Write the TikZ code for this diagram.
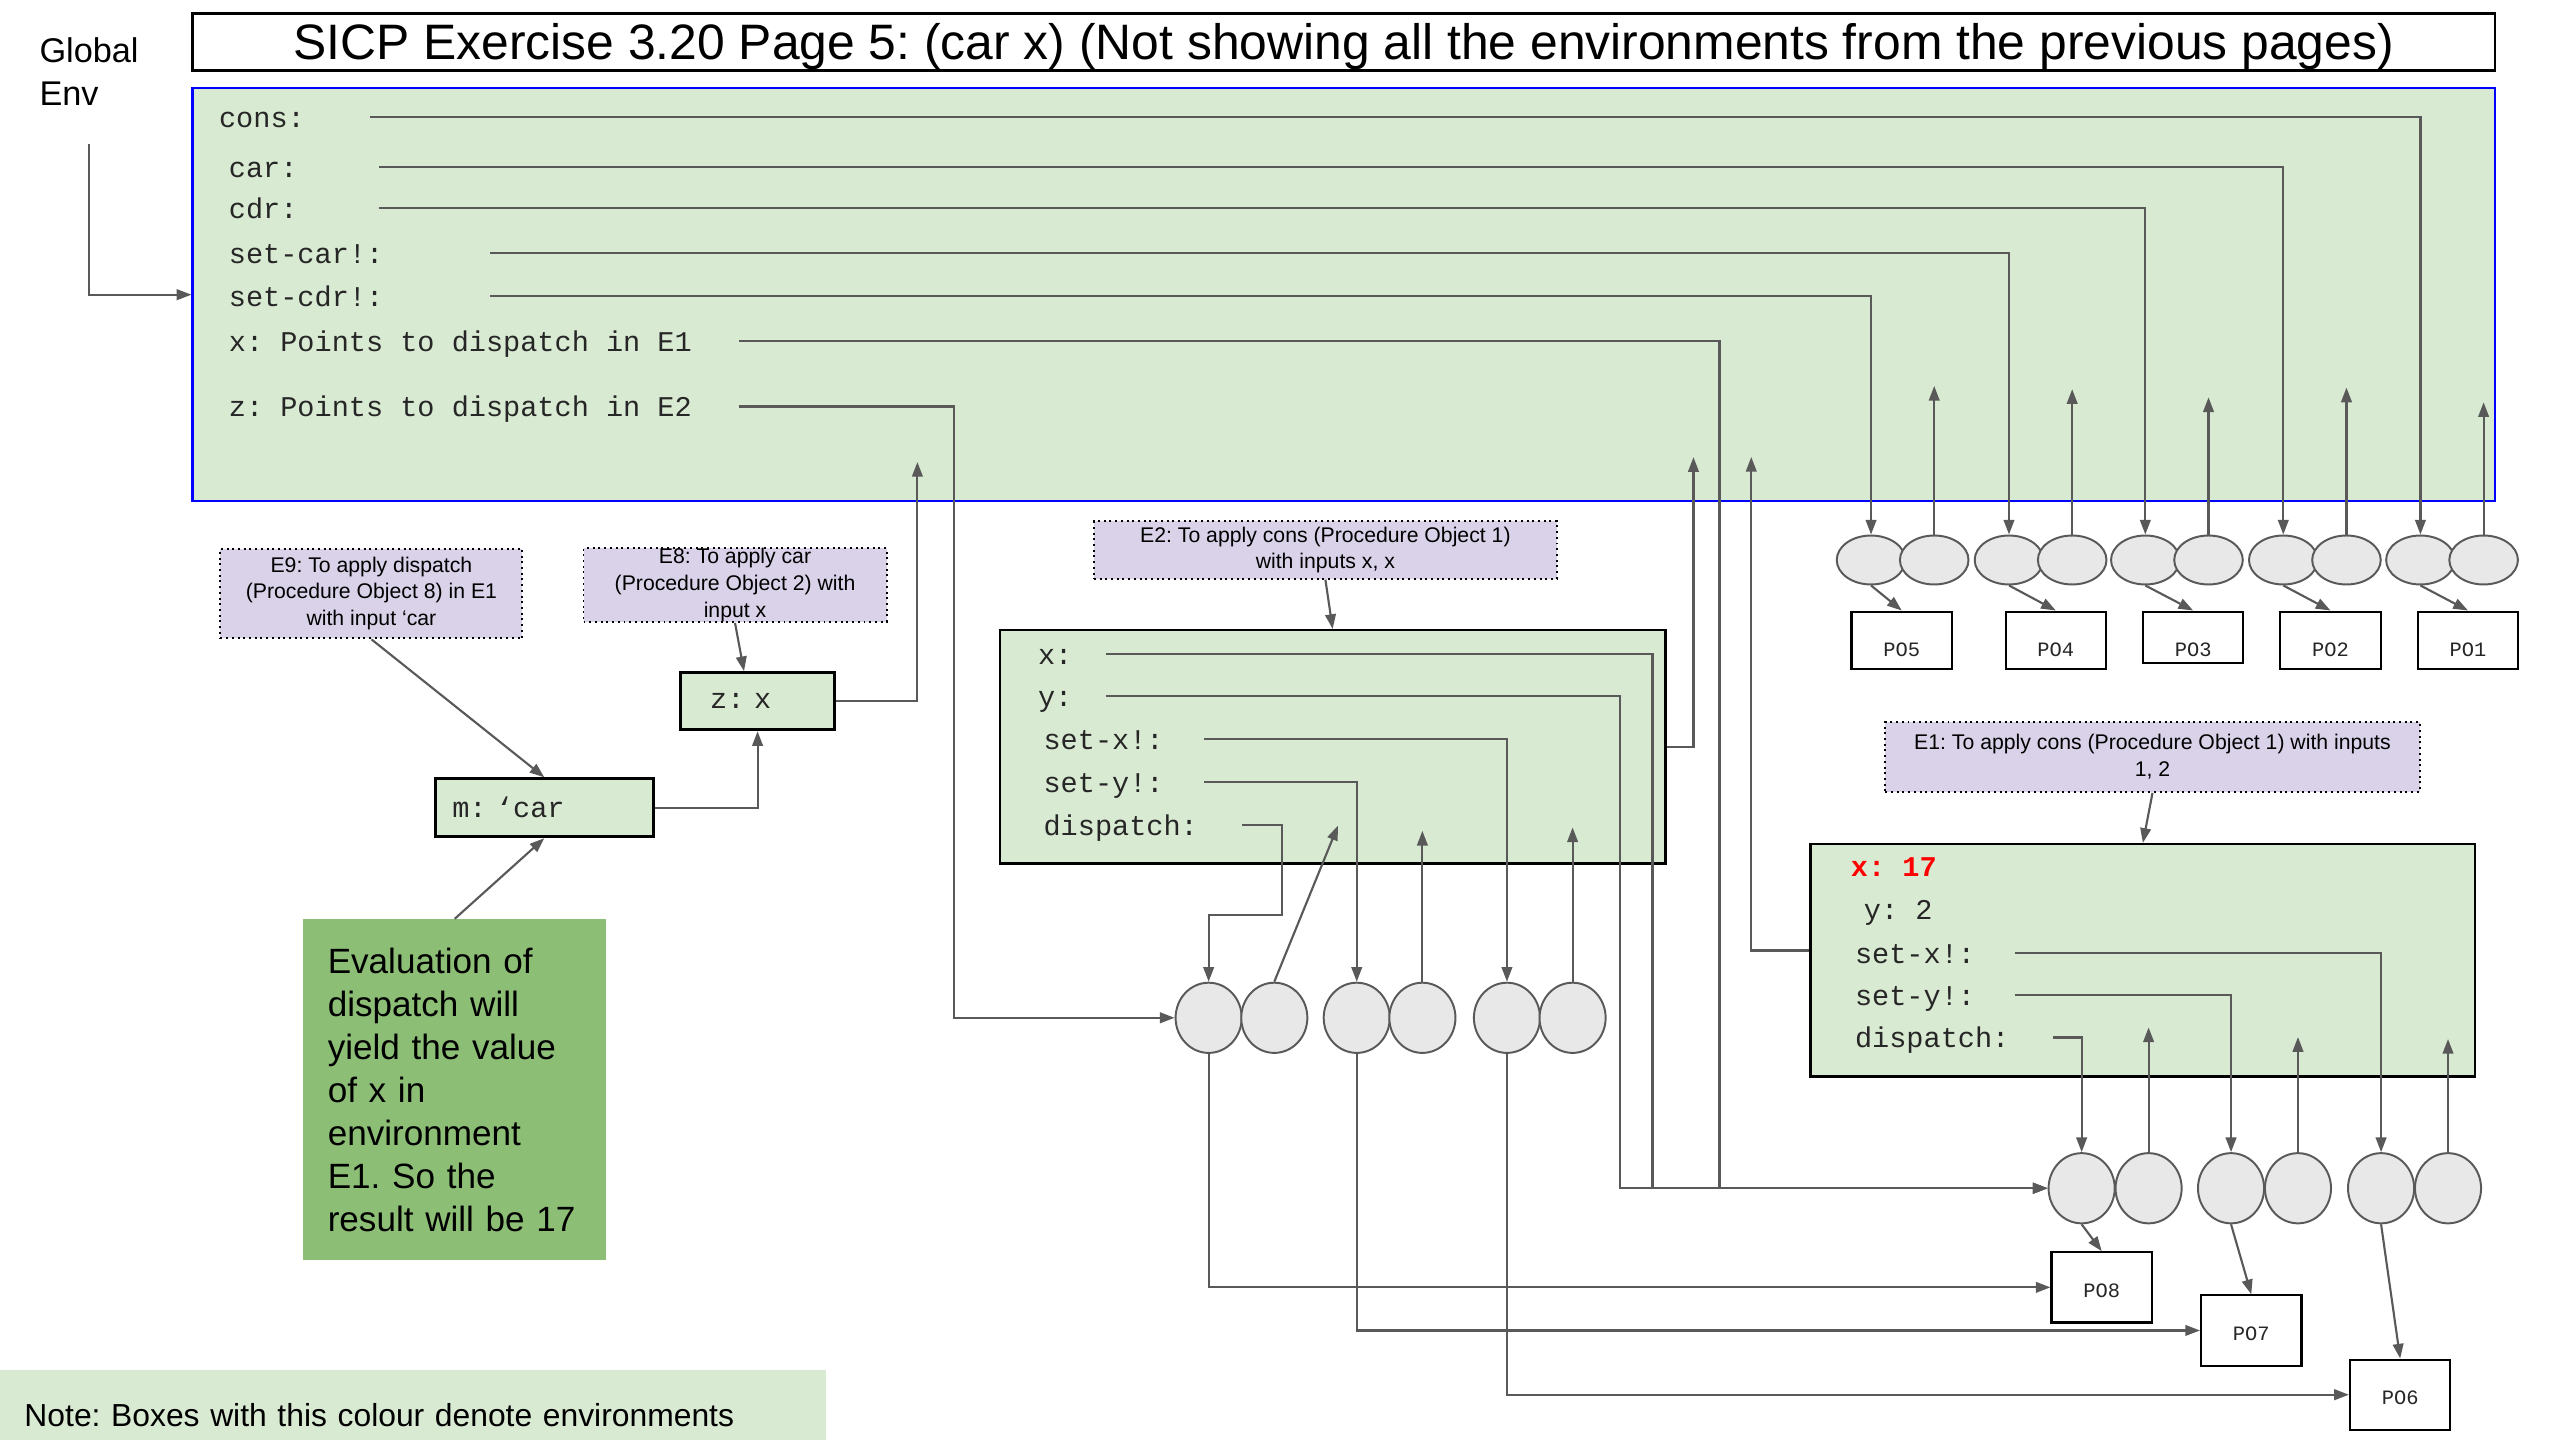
\documentclass[tikz,border=0pt]{standalone}
\usepackage{fontspec}
\setmainfont{Liberation Sans}
\setmonofont{Liberation Mono}
\usetikzlibrary{arrows.meta, shapes.geometric, positioning, calc}
\definecolor{envgreen}{HTML}{D9EAD3}
\definecolor{notegreen}{HTML}{8DBE76}
\definecolor{lavender}{HTML}{D9D2E9}
\definecolor{cellgray}{HTML}{E8E8E8}
\definecolor{linegray}{HTML}{595959}
\definecolor{codegray}{HTML}{262626}
\frenchspacing

\begin{document}
\begin{tikzpicture}[
    x=1pt, y=-1pt,
    envbox/.style={rectangle, draw=black, line width=1.5pt, fill=envgreen},
    smallenv/.style={envbox, line width=1.8pt, align=left, text=codegray, font=\ttfamily\fontsize{17.5pt}{20pt}\selectfont},
    lavbox/.style={rectangle, draw=black, line width=1.2pt, dash pattern=on 1.2pt off 2.3pt, fill=lavender, inner sep=0pt, align=center, font=\fontsize{13pt}{16.5pt}\selectfont},
    binding/.style={anchor=west, inner sep=0pt, text height=12.6pt, text depth=0pt, text=codegray, font=\ttfamily\fontsize{17.5pt}{20pt}\selectfont},
    topcell/.style={ellipse, draw=linegray, line width=1.2pt, fill=cellgray, inner sep=0pt, minimum width=42pt, minimum height=30pt},
    cell/.style={topcell, minimum width=40.5pt, minimum height=43pt},
    pobox/.style={rectangle, draw=black, line width=1.3pt, fill=white, minimum width=61.5pt, minimum height=35.2pt, text height=20pt, text depth=0pt, text=codegray, font=\ttfamily\fontsize{12.5pt}{14pt}\selectfont},
    lowpo/.style={pobox, minimum height=43pt, text height=12.2pt},
    arrow/.style={-{Triangle[length=9pt, width=6.5pt]}, line width=1.3pt, draw=linegray}
]
\useasboundingbox (0,0) rectangle (1568,882);

\node[draw=black, line width=1.5pt, minimum width=1410pt, minimum height=35pt, inner sep=0pt, text height=22pt, text depth=0pt, font=\fontsize{30.5pt}{36pt}\selectfont] (title) at (823,25.75) {SICP Exercise 3.20 Page 5: (car x) (Not showing all the environments from the previous pages)};
\node[anchor=north west, inner sep=0pt, align=left, font=\fontsize{21pt}{26.5pt}\selectfont] (genv) at (24,22.8) {Global\\Env};

\node[draw=blue, line width=1.5pt, fill=envgreen, minimum width=1410pt, minimum height=253pt] (global) at (823,180.5) {};
\node[binding] (gcons) at (134,71.5) {cons:};
\node[binding] (gcar) at (140,102.5) {car:};
\node[binding] (gcdr) at (140,127.4) {cdr:};
\node[binding] (gsetcar) at (140,154.8) {set-car!:};
\node[binding] (gsetcdr) at (140,181.3) {set-cdr!:};
\node[binding] (gx) at (140,209) {x: Points to dispatch in E1};
\node[binding] (gz) at (140,249) {z: Points to dispatch in E2};

\node[topcell] (pr5l) at (1146,343) {};
\node[topcell, right=-4.5pt of pr5l] (pr5r) {};
\node[topcell] (pr4l) at (1230.5,343) {};
\node[topcell, right=-4.5pt of pr4l] (pr4r) {};
\node[topcell] (pr3l) at (1314,343) {};
\node[topcell, right=-4.5pt of pr3l] (pr3r) {};
\node[topcell] (pr2l) at (1398.5,343) {};
\node[topcell, right=-4.5pt of pr2l] (pr2r) {};
\node[topcell] (pr1l) at (1482.5,343) {};
\node[topcell, right=-4.5pt of pr1l] (pr1r) {};

\node[pobox] (po5) at (1164.8,392.2) {PO5};
\node[pobox] (po4) at (1259.2,392.2) {PO4};
\node[pobox, minimum height=31.4pt, text height=23.8pt] (po3) at (1343.3,390.3) {PO3};
\node[pobox] (po2) at (1427.4,392.2) {PO2};
\node[pobox] (po1) at (1511.6,392.2) {PO1};

\node[lavbox, minimum width=185pt, minimum height=55pt] (e9) at (227.5,363.5) {E9: To apply dispatch\\(Procedure Object 8) in E1\\with input ‘car};
\node[lavbox, minimum width=185.6pt, minimum height=44.7pt] (e8) at (450.2,358.4) {E8: To apply car\\(Procedure Object 2) with\\input x};
\node[smallenv, text width=58pt, inner xsep=18pt, minimum height=35pt] (zx) at (464,429.5) {z: x};
\node[smallenv, text width=112.8pt, inner xsep=10.2pt, minimum height=35.5pt] (mcar) at (333.4,494.75) {m: ‘car};
\node[fill=notegreen, minimum width=185.5pt, minimum height=209pt, text width=155.5pt, inner xsep=15pt, align=left, font=\fontsize{21.5pt}{26.3pt}\selectfont] (note) at (278.5,667.5) {Evaluation of\\dispatch will\\yield the value\\of x in\\environment\\E1. So the\\result will be 17};
\node[fill=envgreen, minimum width=506pt, minimum height=43pt, text width=476pt, inner xsep=15pt, align=left, text height=26pt, text depth=0pt, font=\fontsize{19.5pt}{23pt}\selectfont] (notebar) at (253,860.5) {Note: Boxes with this colour denote environments};

\node[lavbox, minimum width=283.6pt, minimum height=35pt] (e2lab) at (811.8,336.9) {E2: To apply cons (Procedure Object 1)\\with inputs x, x};
\node[envbox, minimum width=407.5pt, minimum height=143pt] (e2box) at (816.25,457.5) {};
\node[binding] (ex2) at (635.6,400.6) {x:};
\node[binding] (ey2) at (635.6,426.5) {y:};
\node[binding] (esx2) at (639,452.8) {set-x!:};
\node[binding] (esy2) at (639,479) {set-y!:};
\node[binding] (ed2) at (639,505.3) {dispatch:};

\node[cell] (dsp2l) at (740.3,623.4) {};
\node[cell, right=-1.5pt of dsp2l] (dsp2r) {};
\node[cell] (sety2l) at (831,623.4) {};
\node[cell, right=-1.5pt of sety2l] (sety2r) {};
\node[cell] (setx2l) at (923,623.4) {};
\node[cell, right=-1.5pt of setx2l] (setx2r) {};

\node[lavbox, minimum width=327.3pt, minimum height=42.7pt] (e1lab) at (1318.4,463.7) {E1: To apply cons (Procedure Object 1) with inputs\\1, 2};
\node[envbox, minimum width=407pt, minimum height=142.4pt] (e1box) at (1312.5,588.2) {};
\node[binding, text=red, font=\ttfamily\bfseries\fontsize{17.5pt}{20pt}\selectfont] (ex1) at (1133.5,530.8) {x: 17};
\node[binding] (ey1) at (1141.4,557.1) {y: 2};
\node[binding] (esx1) at (1136,583.6) {set-x!:};
\node[binding] (esy1) at (1136,609.7) {set-y!:};
\node[binding] (ed1) at (1136,635.5) {dispatch:};

\node[cell] (dsp1l) at (1275,727.8) {};
\node[cell, right=-0.7pt of dsp1l] (dsp1r) {};
\node[cell] (sety1l) at (1366.5,727.8) {};
\node[cell, right=-0.7pt of sety1l] (sety1r) {};
\node[cell] (setx1l) at (1458.4,727.8) {};
\node[cell, right=-0.7pt of setx1l] (setx1r) {};

\node[lowpo] (po8) at (1287.3,788.5) {PO8};
\node[lowpo] (po7) at (1378.9,814.9) {PO7};
\node[lowpo] (po6) at (1470.1,854.25) {PO6};

\draw[arrow] ([yshift=-23pt]genv.south) |- (global.west);
\draw[arrow] ([xshift=39.5pt]gcons.east) -| (pr1l.north);
\draw[arrow] ([xshift=50pt]gcar.east) -| (pr2l.north);
\draw[arrow] ([xshift=50pt]gcdr.east) -| (pr3l.north);
\draw[arrow] ([xshift=65.5pt]gsetcar.east) -| (pr4l.north);
\draw[arrow] ([xshift=65.5pt]gsetcdr.east) -| (pr5l.north);
\draw[arrow] ([xshift=28.5pt]gx.east) -| ($(dsp1l.west)+(-201,0)$) -- (dsp1l.west);
\draw[arrow] ([xshift=28.5pt]gz.east) -| ($(dsp2l.west)+(-135,0)$) -- (dsp2l.west);
\draw[arrow] (pr5r.north) -- ++(0,-91);
\draw[arrow] (pr4r.north) -- ++(0,-89);
\draw[arrow] (pr3r.north) -- ++(0,-84);
\draw[arrow] (pr2r.north) -- ++(0,-90);
\draw[arrow] (pr1r.north) -- ++(0,-81);
\draw[arrow] (pr5l.south) -- (po5.north);
\draw[arrow] (pr4l.south) -- (po4.north);
\draw[arrow] (pr3l.south) -- (po3.north);
\draw[arrow] (pr2l.south) -- (po2.north);
\draw[arrow] (pr1l.south) -- (po1.north);

\draw[arrow] (e9.south) -- (mcar.north);
\draw[arrow] (note.north) -- (mcar.south);
\draw[arrow] (e8.south) -- ([xshift=-8.3pt]zx.north);
\draw[arrow] (mcar.east) -| (zx.south);
\draw[arrow] (zx.east) -| ++(50,-146.5);

\draw[arrow] (e2lab.south) -- (e2box.north);
\draw[arrow] (e2box.east) -| ++(16.5,-177.5);
\draw[arrow] ([xshift=20.4pt]ex2.east) -| ($(dsp1l.west)+(-242,0)$) -- (dsp1l.west);
\draw[arrow] ([xshift=20.4pt]ey2.east) -| ($(dsp1l.west)+(-262,0)$) -- (dsp1l.west);
\draw[arrow] ([xshift=24.5pt]esx2.east) -| (setx2l.north);
\draw[arrow] ([xshift=24.5pt]esy2.east) -| (sety2l.north);
\draw[arrow] ([xshift=27pt]ed2.east) -| ++(24.4,55.4) -| (dsp2l.north);
\draw[arrow] (dsp2r.north) -- ++(39,-95.6);
\draw[arrow] (sety2r.north) -- ++(0,-92.4);
\draw[arrow] (setx2r.north) -- ++(0,-94.5);
\draw[arrow] (dsp2l.south) |- (po8.west);
\draw[arrow] (sety2l.south) |- (po7.west);
\draw[arrow] (setx2l.south) |- (po6.west);

\draw[arrow] (e1lab.south) -- (e1box.north);
\draw[arrow] ([yshift=6pt]e1box.west) -| ++(-35.6,-302.3);
\draw[arrow] ([xshift=24pt]esx1.east) -| (setx1l.north);
\draw[arrow] ([xshift=24pt]esy1.east) -| (sety1l.north);
\draw[arrow] ([xshift=26.3pt]ed1.east) -| (dsp1l.north);
\draw[arrow] (dsp1r.north) -- ++(0,-76.4);
\draw[arrow] (sety1r.north) -- ++(0,-70.5);
\draw[arrow] (setx1r.north) -- ++(0,-69.3);
\draw[arrow] (dsp1l.south) -- (po8.north);
\draw[arrow] (sety1l.south) -- (po7.north);
\draw[arrow] (setx1l.south) -- (po6.north);
\end{tikzpicture}
\end{document}
